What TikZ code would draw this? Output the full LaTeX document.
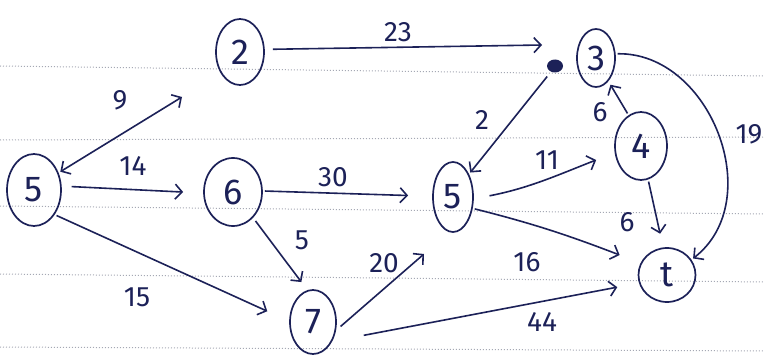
\documentclass[tikz,border=0pt]{standalone}
\usepackage{fontspec}
\setmainfont{Fira Sans}
\usetikzlibrary{shapes.geometric,arrows.meta}
\definecolor{ink}{RGB}{28,33,88}
\definecolor{rulecol}{RGB}{165,168,180}
\begin{document}
\begin{tikzpicture}[x=1pt,y=-1pt,
  vtx/.style={ellipse,draw=ink,line width=1.7pt,inner sep=0pt,text=ink,
    font=\fontsize{36}{38}\selectfont},
  edge/.style={draw=ink,line width=1.6pt,-{Straight Barb[length=7pt,width=15pt,line width=1.6pt]}},
  twoway/.style={draw=ink,line width=1.6pt,{Straight Barb[length=7pt,width=15pt,line width=1.6pt]}-{Straight Barb[length=7pt,width=15pt,line width=1.6pt]}},
  lbl/.style={text=ink,inner sep=0pt,font=\fontsize{28}{30}\selectfont},
  ruled/.style={draw=rulecol,dotted,line width=1pt},
  blobstyle/.style={ellipse,fill=ink,minimum width=16pt,minimum height=13pt,inner sep=0pt}]
\useasboundingbox (0,0) rectangle (764,361);
\fill[white] (0,0) rectangle (764,361);
% ruled paper lines
\draw[ruled] (0,66) -- (764,76);
\draw[ruled] (0,140) -- (764,137);
\draw[ruled] (0,206) -- (764,214);
\draw[ruled] (0,274) -- (764,282);
\draw[ruled] (0,347) -- (764,351);
% nodes
\node[vtx,minimum width=54pt,minimum height=72pt] (s)  at (34,190)  {5};
\node[vtx,minimum width=48pt,minimum height=66pt] (n2) at (240,52)  {2};
\node[vtx,minimum width=58pt,minimum height=68pt] (n6) at (233,192) {6};
\node[vtx,minimum width=46pt,minimum height=64pt] (n7) at (313,322) {7};
\node[vtx,minimum width=40pt,minimum height=70pt] (m5) at (453,197) {5};
\node[vtx,minimum width=38pt,minimum height=58pt] (n3) at (596,58)  {3};
\node[vtx,minimum width=52pt,minimum height=68pt] (n4) at (641,146) {4};
\node[vtx,minimum width=57pt,minimum height=54pt] (t)  at (667,275) {t};
\node[blobstyle] (blob) at (555,66) {};
% free ends
\coordinate (e9)  at (182,97);
\coordinate (e23) at (542,45);
\coordinate (e20) at (424,254);
% edges
\draw[twoway,shorten <=2pt] (s.35) -- (e9);
\draw[edge,shorten <=10pt,shorten >=20pt] (s.8) -- (n6.182);
\draw[edge,shorten <=2pt,shorten >=24pt] (s.-50) -- (n7.178);
\draw[edge,shorten <=8pt] (n2.6) -- (e23);
\draw[edge,shorten <=6pt,shorten >=2pt] (blob.235) -- (m5.55);
\draw[edge,shorten <=2pt,shorten >=24pt] (n6.2) -- (m5.178);
\draw[edge,shorten <=4pt,shorten >=10pt] (n6.-52) -- (n7.100);
\draw[edge,shorten <=6pt] (n7.-20) -- (e20);
\draw[edge,shorten <=32pt,shorten >=22pt] (n7.-45) -- (t.196);
\draw[edge,shorten <=16pt] (m5.-5) .. controls (530,188) and (560,174) .. ([shift={(-18,14)}]n4.west);
\draw[edge,shorten <=2pt] (m5.-30) .. controls (535,224) and (570,236) .. ([shift={(-18,-20)}]t.west);
\draw[edge,shorten <=2pt,shorten >=4pt] (n4.112) -- (n3.-62);
\draw[edge,shorten <=2pt,shorten >=14pt] (n4.-78) -- (t.98);
\draw[edge,shorten <=2pt,shorten >=2pt] (n3.12) .. controls (710,52) and (768,200) .. (t.32);
% labels
\node[lbl] (l9)  at (120,100) {9};
\node[lbl] (l14) at (133,166) {14};
\node[lbl] (l15) at (137,297) {15};
\node[lbl] (l23) at (398,32)  {23};
\node[lbl] (l2)  at (482,120) {2};
\node[lbl] (l30) at (333,177) {30};
\node[lbl] (l5)  at (302,240) {5};
\node[lbl] (l20) at (384,263) {20};
\node[lbl] (l44) at (542,322) {44};
\node[lbl] (l11) at (547,160) {11};
\node[lbl] (l16) at (527,262) {16};
\node[lbl] (l6a) at (600,112) {6};
\node[lbl] (l6b) at (627,222) {6};
\node[lbl] (l19) at (749,134) {19};
\end{tikzpicture}
\end{document}
